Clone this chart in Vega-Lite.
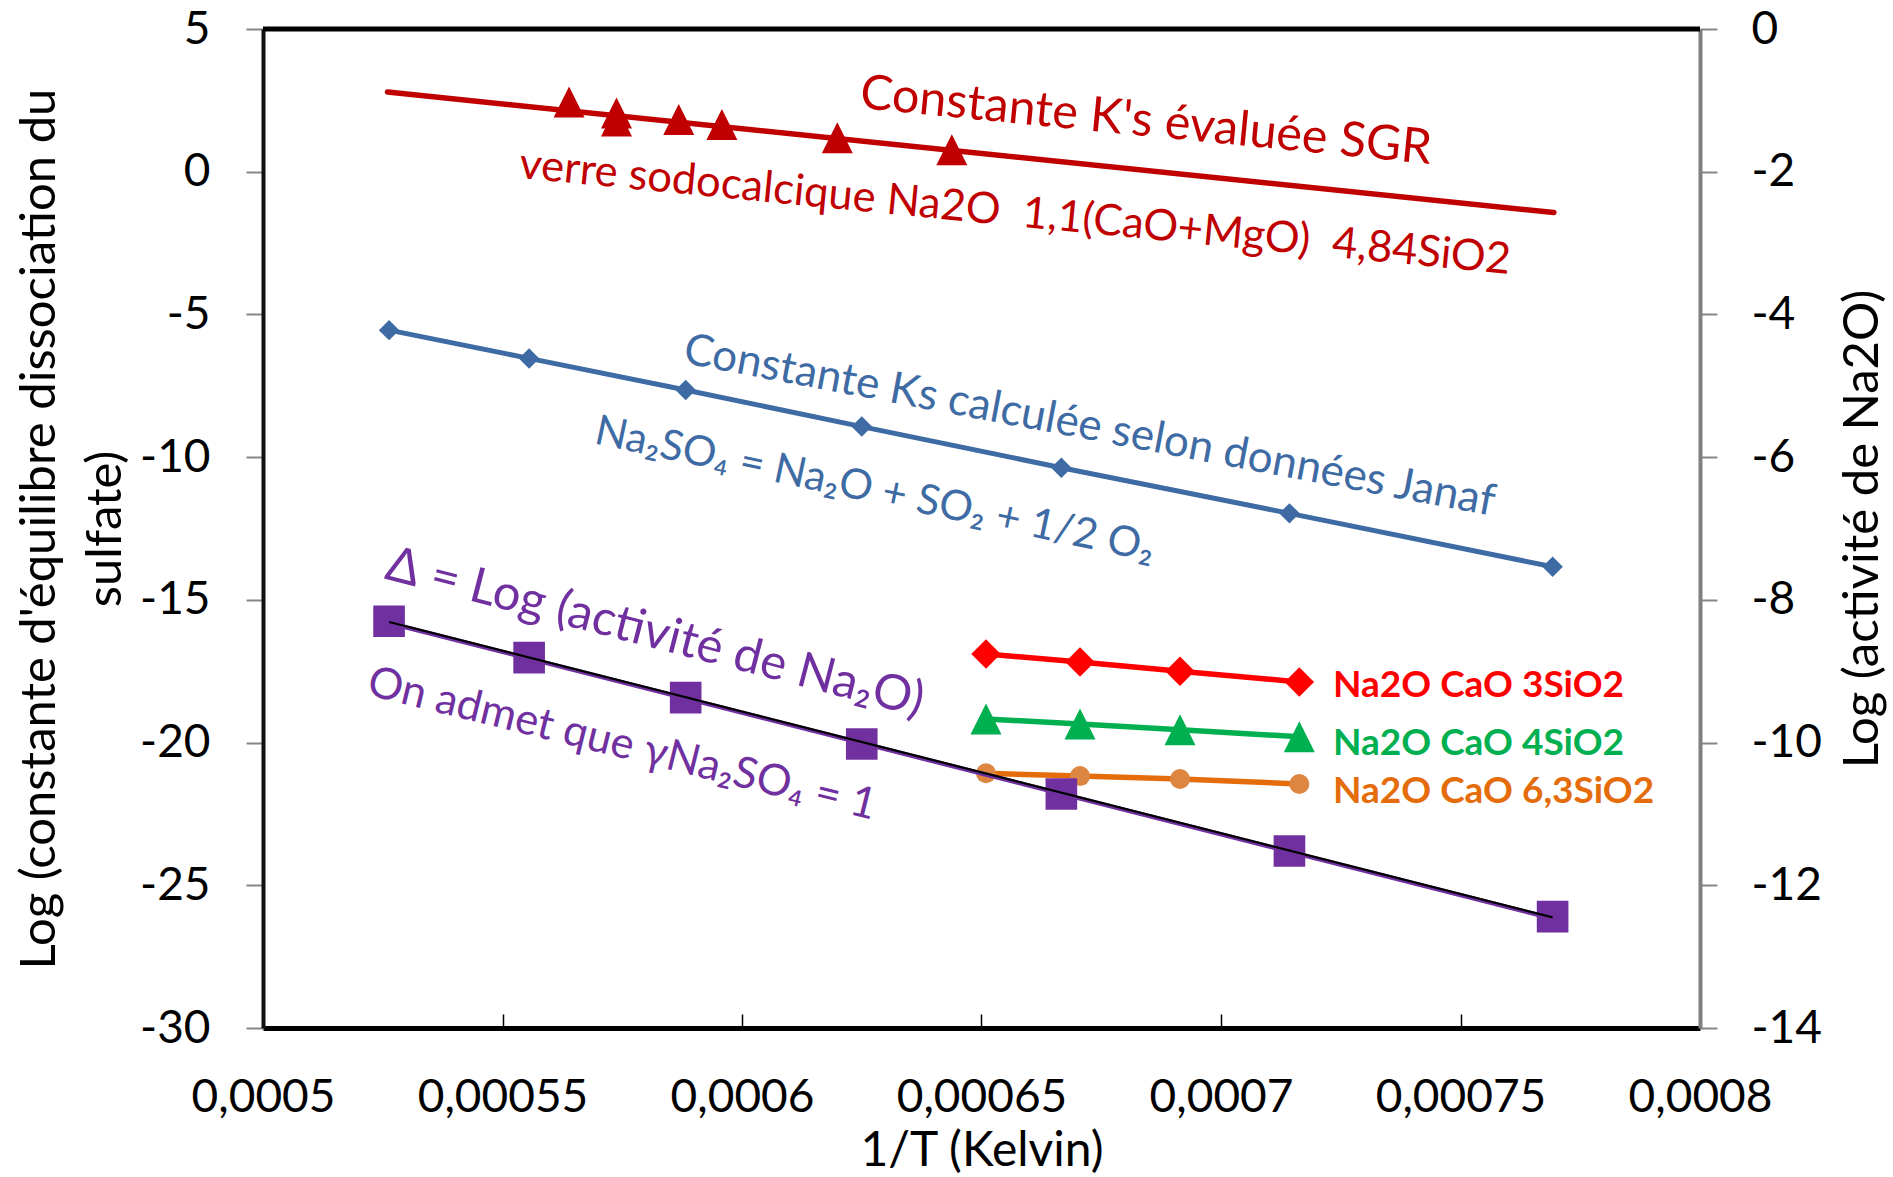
{
  "$schema": "https://vega.github.io/schema/vega-lite/v6.json",
  "width": 1437,
  "height": 999,
  "autosize": {"type": "none"},
  "padding": {"left": 263, "top": 29, "right": 193, "bottom": 149},
  "background": "white",
  "config": {
    "view": {"stroke": null},
    "font": "Lato",
    "axis": {"grid": false, "labelFont": "Lato", "titleFont": "Lato", "labelColor": "black", "titleColor": "black", "titleFontWeight": "normal"}
  },
  "datasets": {
    "one": [{}],
    "sgrLine": [{"x": 0.000526, "y": 2.79}, {"x": 0.0007695, "y": -1.43}],
    "sgrPoints": [
      {"x": 0.0005639, "y": 2.44}, {"x": 0.0005738, "y": 2.06}, {"x": 0.0005738, "y": 1.78},
      {"x": 0.0005868, "y": 1.83}, {"x": 0.0005958, "y": 1.65}, {"x": 0.0006199, "y": 1.19}, {"x": 0.0006438, "y": 0.77}
    ],
    "janaf": [
      {"x": 0.00052632, "y": -5.55}, {"x": 0.00055556, "y": -6.54}, {"x": 0.00058824, "y": -7.65},
      {"x": 0.000625, "y": -8.93}, {"x": 0.00066667, "y": -10.37}, {"x": 0.00071429, "y": -11.97}, {"x": 0.00076923, "y": -13.84}
    ],
    "activite": [
      {"x": 0.00052632, "y": -8.30}, {"x": 0.00055556, "y": -8.81}, {"x": 0.00058824, "y": -9.37},
      {"x": 0.000625, "y": -10.02}, {"x": 0.00066667, "y": -10.72}, {"x": 0.00071429, "y": -11.52}, {"x": 0.00076923, "y": -12.44}
    ],
    "trendPurple": [{"x": 0.00052632, "y": -8.325}, {"x": 0.00076923, "y": -12.465}],
    "trendBlack": [{"x": 0.00052632, "y": -8.31}, {"x": 0.00076923, "y": -12.45}],
    "verre3": [{"x": 0.00065094, "y": -8.76}, {"x": 0.00067056, "y": -8.87}, {"x": 0.00069144, "y": -9.00}, {"x": 0.00071635, "y": -9.15}],
    "verre4": [{"x": 0.00065094, "y": -9.67}, {"x": 0.00067056, "y": -9.74}, {"x": 0.00069144, "y": -9.82}, {"x": 0.00071635, "y": -9.92}],
    "verre63": [{"x": 0.00065094, "y": -10.43}, {"x": 0.00067056, "y": -10.47}, {"x": 0.00069144, "y": -10.51}, {"x": 0.00071635, "y": -10.58}]
  },
  "layer": [
    {
      "layer": [
        {
          "data": {"name": "janaf"},
          "mark": {"type": "line", "color": "#3E6BA3", "strokeWidth": 5},
          "encoding": {
            "x": {"field": "x", "type": "quantitative", "scale": {"domain": [0.0005, 0.0008], "nice": false, "zero": false},
              "axis": {"values": [0.0005, 0.00055, 0.0006, 0.00065, 0.0007, 0.00075, 0.0008], "labelExpr": "replace(toString(datum.value), '.', ',')",
                "domainColor": "black", "domainWidth": 5, "tickColor": "black", "tickWidth": 1.5, "tickSize": -14,
                "labelFontSize": 46, "labelPadding": 97, "labelBaseline": "alphabetic", "labelFlush": false, "labelOverlap": false,
                "title": "1/T (Kelvin)", "titleFontSize": 48, "titleBaseline": "alphabetic", "titleAlign": "center", "titleX": 718.5, "titleY": 137}},
            "y": {"field": "y", "type": "quantitative", "scale": {"domain": [-30, 5], "nice": false, "zero": false},
              "axis": {"orient": "left", "values": [-30, -25, -20, -15, -10, -5, 0, 5], "labelExpr": "toString(datum.value)",
                "domainColor": "#111111", "domainWidth": 4, "tickColor": "#868686", "tickWidth": 2, "tickSize": 17,
                "labelPadding": 36, "labelFontSize": 46,
                "title": ["Log (constante d'équilibre dissociation du", "sulfate)"], "titleFontSize": 49, "titleAngle": -90,
                "titleX": -224, "titleY": 499.5, "titleAlign": "center", "titleBaseline": "middle", "titleLineHeight": 66}}
          }
        },
        {
          "data": {"name": "janaf"},
          "mark": {"type": "point", "shape": "diamond", "filled": true, "color": "#3E6BA3", "size": 420, "opacity": 1},
          "encoding": {"x": {"field": "x", "type": "quantitative"}, "y": {"field": "y", "type": "quantitative"}}
        },
        {
          "data": {"name": "sgrLine"},
          "mark": {"type": "line", "color": "#C00000", "strokeWidth": 5.5, "strokeCap": "round"},
          "encoding": {"x": {"field": "x", "type": "quantitative"}, "y": {"field": "y", "type": "quantitative"}}
        },
        {
          "data": {"name": "sgrPoints"},
          "mark": {"type": "point", "shape": "M0,-1L1,1L-1,1Z", "filled": true, "color": "#C00000", "size": 961, "opacity": 1},
          "encoding": {"x": {"field": "x", "type": "quantitative"}, "y": {"field": "y", "type": "quantitative"}}
        },
        {
          "data": {"name": "one"},
          "mark": {"type": "rule", "color": "black", "strokeWidth": 5},
          "encoding": {"y": {"datum": 5, "type": "quantitative"}}
        },
        {
          "data": {"name": "one"},
          "mark": {"type": "text", "text": "Constante K's évaluée SGR", "angle": 5.6, "fontSize": 48.5, "color": "#C00000", "font": "Lato", "align": "center", "baseline": "middle"},
          "encoding": {"x": {"datum": 0.00068434, "type": "quantitative"}, "y": {"datum": 1.777, "type": "quantitative"}}
        },
        {
          "data": {"name": "one"},
          "mark": {"type": "text", "text": "verre sodocalcique Na2O\u00a0 1,1(CaO+MgO)\u00a0 4,84SiO2", "angle": 5.55, "fontSize": 43.5, "color": "#C00000", "font": "Lato", "align": "center", "baseline": "middle"},
          "encoding": {"x": {"datum": 0.000657, "type": "quantitative"}, "y": {"datum": -1.446, "type": "quantitative"}}
        },
        {
          "data": {"name": "one"},
          "mark": {"type": "text", "text": "Constante Ks calculée selon données Janaf", "angle": 10.7, "fontSize": 44, "color": "#3E6BA3", "font": "Lato", "align": "center", "baseline": "middle"},
          "encoding": {"x": {"datum": 0.00067253, "type": "quantitative"}, "y": {"datum": -8.93, "type": "quantitative"}}
        },
        {
          "data": {"name": "one"},
          "mark": {"type": "text", "text": "Na₂SO₄ = Na₂O + SO₂ + 1/2 O₂", "angle": 12, "fontSize": 42, "color": "#3E6BA3", "font": "Lato", "align": "center", "baseline": "middle"},
          "encoding": {"x": {"datum": 0.00062777, "type": "quantitative"}, "y": {"datum": -11.15, "type": "quantitative"}}
        },
        {
          "data": {"name": "one"},
          "mark": {"type": "text", "text": "Δ = Log (activité de Na₂O)", "angle": 14.5, "fontSize": 49, "color": "#7030A0", "font": "Lato", "align": "center", "baseline": "middle"},
          "encoding": {"x": {"datum": 0.00058184, "type": "quantitative"}, "y": {"datum": -16.16, "type": "quantitative"}}
        },
        {
          "data": {"name": "one"},
          "mark": {"type": "text", "text": "On admet que γNa₂SO₄ = 1", "angle": 13.9, "fontSize": 43.5, "color": "#7030A0", "font": "Lato", "align": "center", "baseline": "middle"},
          "encoding": {"x": {"datum": 0.00057495, "type": "quantitative"}, "y": {"datum": -20.07, "type": "quantitative"}}
        },
        {
          "data": {"name": "one"},
          "mark": {"type": "text", "text": "Na2O CaO 3SiO2", "fontSize": 37, "fontWeight": "bold", "color": "#FF0000", "font": "Lato", "align": "left", "baseline": "alphabetic"},
          "encoding": {"x": {"datum": 0.00072338, "type": "quantitative"}, "y": {"datum": -18.40, "type": "quantitative"}}
        },
        {
          "data": {"name": "one"},
          "mark": {"type": "text", "text": "Na2O CaO 4SiO2", "fontSize": 37, "fontWeight": "bold", "color": "#00B050", "font": "Lato", "align": "left", "baseline": "alphabetic"},
          "encoding": {"x": {"datum": 0.00072338, "type": "quantitative"}, "y": {"datum": -20.435, "type": "quantitative"}}
        },
        {
          "data": {"name": "one"},
          "mark": {"type": "text", "text": "Na2O CaO 6,3SiO2", "fontSize": 37, "fontWeight": "bold", "color": "#E46C0A", "font": "Lato", "align": "left", "baseline": "alphabetic"},
          "encoding": {"x": {"datum": 0.00072338, "type": "quantitative"}, "y": {"datum": -22.12, "type": "quantitative"}}
        }
      ]
    },
    {
      "layer": [
        {
          "data": {"name": "verre3"},
          "mark": {"type": "line", "color": "#FF0000", "strokeWidth": 5.5},
          "encoding": {
            "x": {"field": "x", "type": "quantitative"},
            "y": {"field": "y", "type": "quantitative", "scale": {"domain": [-14, 0], "nice": false, "zero": false},
              "axis": {"orient": "right", "values": [-14, -12, -10, -8, -6, -4, -2, 0], "labelExpr": "toString(datum.value)",
                "domainColor": "#808080", "domainWidth": 4, "tickColor": "#868686", "tickWidth": 2, "tickSize": 17,
                "labelPadding": 34, "labelFontSize": 46, "labelAlign": "left",
                "title": "Log (activité de Na2O)", "titleFontSize": 49, "titleAngle": -90,
                "titleX": 162, "titleY": 499.5, "titleAlign": "center", "titleBaseline": "middle"}}
          }
        },
        {
          "data": {"name": "verre3"},
          "mark": {"type": "point", "shape": "diamond", "filled": true, "color": "#FF0000", "size": 870, "opacity": 1},
          "encoding": {"x": {"field": "x", "type": "quantitative"}, "y": {"field": "y", "type": "quantitative"}}
        },
        {
          "data": {"name": "verre4"},
          "mark": {"type": "line", "color": "#00B050", "strokeWidth": 5.5},
          "encoding": {"x": {"field": "x", "type": "quantitative"}, "y": {"field": "y", "type": "quantitative"}}
        },
        {
          "data": {"name": "verre4"},
          "mark": {"type": "point", "shape": "M0,-1L1,1L-1,1Z", "filled": true, "color": "#00B050", "size": 961, "opacity": 1},
          "encoding": {"x": {"field": "x", "type": "quantitative"}, "y": {"field": "y", "type": "quantitative"}}
        },
        {
          "data": {"name": "verre63"},
          "mark": {"type": "line", "color": "#E46C0A", "strokeWidth": 5.5},
          "encoding": {"x": {"field": "x", "type": "quantitative"}, "y": {"field": "y", "type": "quantitative"}}
        },
        {
          "data": {"name": "verre63"},
          "mark": {"type": "point", "shape": "circle", "filled": true, "color": "#DC8641", "size": 400, "opacity": 1},
          "encoding": {"x": {"field": "x", "type": "quantitative"}, "y": {"field": "y", "type": "quantitative"}}
        },
        {
          "data": {"name": "activite"},
          "mark": {"type": "point", "shape": "square", "filled": true, "color": "#7030A0", "size": 1000, "opacity": 1},
          "encoding": {"x": {"field": "x", "type": "quantitative"}, "y": {"field": "y", "type": "quantitative"}}
        },
        {
          "data": {"name": "trendPurple"},
          "mark": {"type": "line", "color": "#7030A0", "strokeWidth": 4.5},
          "encoding": {"x": {"field": "x", "type": "quantitative"}, "y": {"field": "y", "type": "quantitative"}}
        },
        {
          "data": {"name": "trendBlack"},
          "mark": {"type": "line", "color": "black", "strokeWidth": 2.2},
          "encoding": {"x": {"field": "x", "type": "quantitative"}, "y": {"field": "y", "type": "quantitative"}}
        }
      ]
    }
  ],
  "resolve": {"scale": {"y": "independent"}}
}
